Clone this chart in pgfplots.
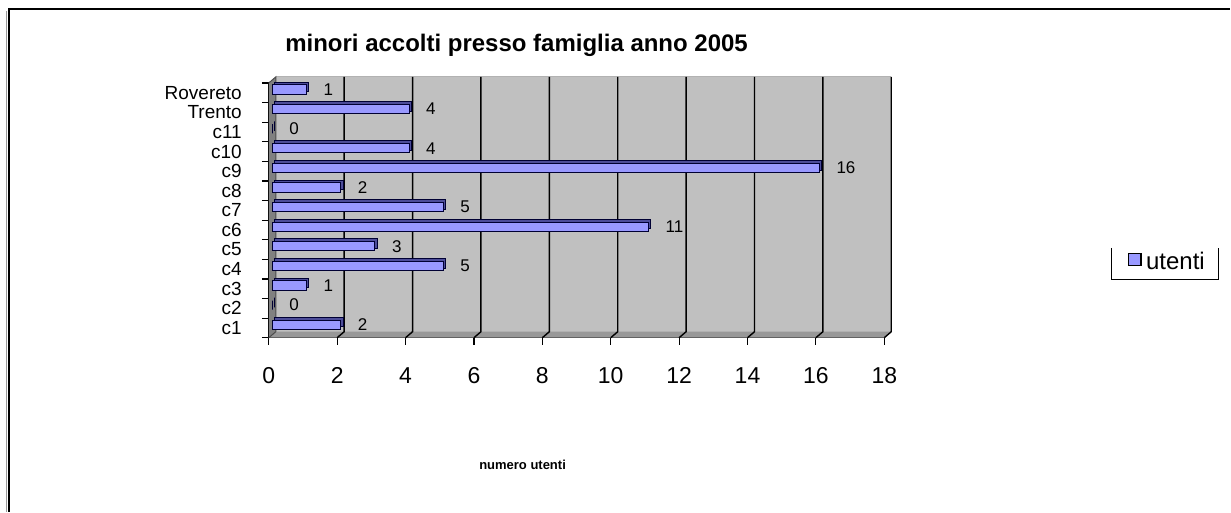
\documentclass[border=0pt]{standalone}
\usepackage{fontspec}
\setmainfont{Liberation Sans}
\usepackage{pgfplots}
\usepackage{pgfplotstable}
\pgfplotsset{compat=1.18}

\definecolor{wall}{HTML}{C0C0C0}
\definecolor{sidewall}{HTML}{808080}
\definecolor{floorc}{HTML}{989898}
\definecolor{barface}{HTML}{9999FF}
\definecolor{barside}{HTML}{4D4D99}
\definecolor{baredge}{HTML}{000033}

% y = category index (0 = c1 ... 12 = Rovereto)
\pgfplotstableread{
y  val
0  2
1  0
2  1
3  5
4  3
5  11
6  5
7  2
8  16
9  4
10 0
11 4
12 1
}\utenti

\begin{document}
\begin{tikzpicture}[x=1pt,y=1pt]
% page frame (1px = 0.5pt)
\path (0,0) rectangle (615.5,256);
\draw[black!40, line width=0.5pt] (3.4,0) -- (3.4,250.5);
\draw[line width=1pt] (4.6,0) -- (4.6,251.3) -- (615.5,251.3);

\node[font=\bfseries\fontsize{12}{14}\selectfont] at (258.5,233.5) {minori accolti presso famiglia anno 2005};
\node[font=\bfseries\fontsize{6.5}{8}\selectfont] at (261.5,23.5) {numero utenti};

% legend frame (no top side)
\draw[line width=0.5pt] (556,132) -- (556,116) -- (609.5,116) -- (609.5,132);

\begin{axis}[
    at={(134.5pt,87pt)}, anchor=south west,
    scale only axis,
    width=308pt, height=127.5pt,
    xmin=0, xmax=18,
    ymin=-0.5, ymax=12.5,
    clip=false,
    /pgf/number format/assume math mode=true,
    axis x line=bottom, axis y line=left,
    axis line style={-, line width=0.6pt},
    tick align=outside,
    major tick length=3.5pt,
    tick style={black, line width=0.6pt},
    xtick={0,2,...,18},
    xticklabel style={font=\fontsize{11.5}{13}\selectfont, yshift=-8pt},
    ytick={-0.5,0.5,...,12.5},
    yticklabels={},
    extra y ticks={0,1,...,12},
    extra y tick labels={c1,c2,c3,c4,c5,c6,c7,c8,c9,c10,c11,Trento,Rovereto},
    extra y tick style={major tick length=0pt},
    yticklabel style={font=\fontsize{9.5}{11}\selectfont, xshift=-10pt},
    legend style={at={(1.3945,0.294)}, anchor=west, draw=none, fill=none,
        font=\fontsize{12}{14}\selectfont, inner sep=0pt,
        /tikz/every even column/.append style={column sep=3pt}},
]
% 3D walls
\fill[sidewall] (axis cs:0,-0.5) -- (axis cs:0,12.5)
    -- ([shift={(3.5pt,3pt)}]axis cs:0,12.5) -- ([shift={(3.5pt,3pt)}]axis cs:0,-0.5) -- cycle;
\fill[wall] ([shift={(3.5pt,3pt)}]axis cs:0,-0.5) rectangle ([shift={(3.5pt,3pt)}]axis cs:18,12.5);
\fill[floorc] (axis cs:0,-0.5) -- (axis cs:18,-0.5)
    -- ([shift={(3.5pt,3pt)}]axis cs:18,-0.5) -- ([shift={(3.5pt,3pt)}]axis cs:0,-0.5) -- cycle;
\draw[black!30, line width=0.5pt] ([shift={(3.5pt,3pt)}]axis cs:0,12.5) -- ([shift={(3.5pt,3pt)}]axis cs:18,12.5);
\draw[black!70, line width=0.5pt] (axis cs:0,12.5) -- ([shift={(3.5pt,3pt)}]axis cs:0,12.5)
    -- ([shift={(3.5pt,3pt)}]axis cs:0,-0.5) -- (axis cs:0,-0.5);
\pgfplotsinvokeforeach{2,4,...,18}{
  \draw[line width=0.7pt] ([shift={(3.5pt,3pt)}]axis cs:#1,12.5)
      -- ([shift={(3.5pt,3pt)}]axis cs:#1,-0.5) -- (axis cs:#1,-0.5);
}

% bars: depth side first, then front face
\addplot[xbar, bar width=4.8pt, bar shift=0pt, fill=barside, draw=baredge,
    line width=0.5pt, shift={(3pt,2.9pt)}, forget plot]
    table[x=val, y=y] {\utenti};
\addplot[xbar, bar width=4.6pt, bar shift=0pt, fill=barface, draw=baredge,
    line width=0.5pt, shift={(1.75pt,1.6pt)},
    point meta=x, nodes near coords,
    every node near coord/.append style={anchor=west, xshift=5pt,
        font=\fontsize{8.5}{10}\selectfont, black},
    legend image code/.code={\draw[fill=barface, draw=black, line width=0.8pt] (0pt,-3pt) rectangle (6.5pt,3pt);}]
    table[x=val, y=y] {\utenti};
\addlegendentry{utenti}
\end{axis}
\end{tikzpicture}
\end{document}
